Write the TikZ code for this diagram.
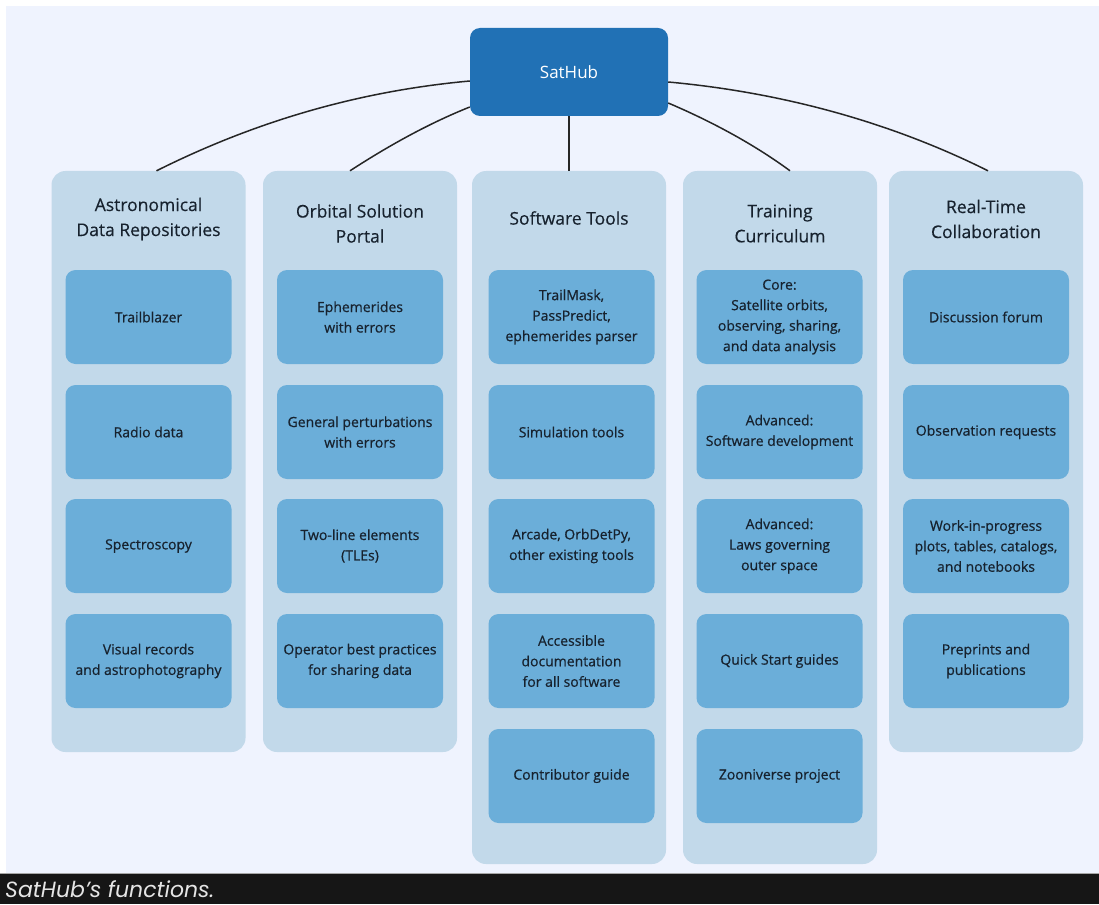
\documentclass[tikz,border=0pt]{standalone}
\usepackage{fontspec}
\setmainfont{Open Sans}
\newfontfamily\capfont{Poppins}
\definecolor{bgc}{HTML}{EFF3FE}
\definecolor{colc}{HTML}{C2D9EA}
\definecolor{boxc}{HTML}{6BAED9}
\definecolor{hubc}{HTML}{2171B5}
\definecolor{txtc}{HTML}{17222E}
\definecolor{barc}{HTML}{161616}
\begin{document}
\begin{tikzpicture}[x=1pt,y=-1pt,
  colbox/.style={fill=colc,rounded corners=14pt,minimum width=194pt,inner sep=0pt},
  itembox/.style={fill=boxc,rounded corners=10pt,minimum width=166pt,minimum height=94pt,inner sep=0pt,
    align=center,text=txtc,font=\fontsize{14}{20.5}\selectfont\addfontfeature{FakeBold=0.6}},
  coltitle/.style={align=center,text=txtc,font=\fontsize{17.5}{25}\selectfont\addfontfeature{FakeBold=0.3},inner sep=0pt},
  link/.style={draw=black!85,line width=1.5pt}]
\useasboundingbox (0,0) rectangle (1099,904);
\fill[white] (0,0) rectangle (1099,904);
\fill[bgc] (6,6) rectangle (1099,873);
\fill[barc] (0,874) rectangle (1099,904);
\draw[gray!70,line width=0.8pt] (0,873.5) -- (1099,873.5);
\node[anchor=west,text=white!90!black,font=\capfont\itshape\fontsize{22}{24}\selectfont,inner sep=0pt] (cap) at (5,889) {SatHub’s functions.};

% hub
\node[fill=hubc,rounded corners=10pt,minimum width=198pt,minimum height=88pt,inner sep=0pt,
  text=white,font=\fontsize{17}{20}\selectfont] (sat) at (569,72) {SatHub};

% columns
\node[colbox,minimum height=581pt] (c1) at (148.5,461.5) {};
\node[colbox,minimum height=581pt] (c2) at (360,461.5) {};
\node[colbox,minimum height=693pt] (c3) at (569,517.5) {};
\node[colbox,minimum height=693pt] (c4) at (780,517.5) {};
\node[colbox,minimum height=581pt] (c5) at (986,461.5) {};

% titles
\node[coltitle] (t1) at (148.5,219) {Astronomical\\Data Repositories};
\node[coltitle] (t2) at (360,223.5) {Orbital Solution\\Portal};
\node[coltitle] (t3) at (569,218) {Software Tools};
\node[coltitle] (t4) at (780,223.5) {Training\\Curriculum};
\node[coltitle] (t5) at (986,219) {Real-Time\\Collaboration};

% items column 1
\node[itembox] (a1) at (148.5,317) {Trailblazer};
\node[itembox] (a2) at (148.5,432) {Radio data};
\node[itembox] (a3) at (148.5,546) {Spectroscopy};
\node[itembox] (a4) at (148.5,661) {Visual records\\and astrophotography};
% column 2
\node[itembox] (b1) at (360,317) {Ephemerides\\with errors};
\node[itembox] (b2) at (360,432) {General perturbations\\with errors};
\node[itembox] (b3) at (360,546) {Two-line elements\\(TLEs)};
\node[itembox] (b4) at (360,661) {Operator best practices\\for sharing data};
% column 3
\node[itembox] (d1) at (571.5,317) {TrailMask,\\PassPredict,\\ephemerides parser};
\node[itembox] (d2) at (571.5,432) {Simulation tools};
\node[itembox] (d3) at (571.5,546) {Arcade, OrbDetPy,\\other existing tools};
\node[itembox] (d4) at (571.5,661) {Accessible\\documentation\\for all software};
\node[itembox] (d5) at (571.5,776) {Contributor guide};
% column 4
\node[itembox] (e1) at (779.5,317) {Core:\\Satellite orbits,\\observing, sharing,\\and data analysis};
\node[itembox] (e2) at (779.5,432) {Advanced:\\Software development};
\node[itembox] (e3) at (779.5,546) {Advanced:\\Laws governing\\outer space};
\node[itembox] (e4) at (779.5,661) {Quick Start guides};
\node[itembox] (e5) at (779.5,776) {Zooniverse project};
% column 5
\node[itembox] (f1) at (986,317) {Discussion forum};
\node[itembox] (f2) at (986,432) {Observation requests};
\node[itembox] (f3) at (986,546) {Work-in-progress\\plots, tables, catalogs,\\and notebooks};
\node[itembox] (f4) at (986,661) {Preprints and\\publications};

% connectors
\draw[link] ([yshift=-9pt]sat.west) .. controls +(-110,10) and +(100,-50) .. ([xshift=8pt]c1.north);
\draw[link] ([yshift=-35pt]sat.west) .. controls +(-40,16) and +(40,-26) .. ([xshift=-10pt]c2.north);
\draw[link] (sat.south) -- (c3.north);
\draw[link] ([yshift=-31pt]sat.east) .. controls +(40,17) and +(-38,-28) .. ([xshift=10pt]c4.north);
\draw[link] ([yshift=-10pt]sat.east) .. controls +(110,10) and +(-100,-50) .. ([xshift=2pt]c5.north);
\end{tikzpicture}
\end{document}
